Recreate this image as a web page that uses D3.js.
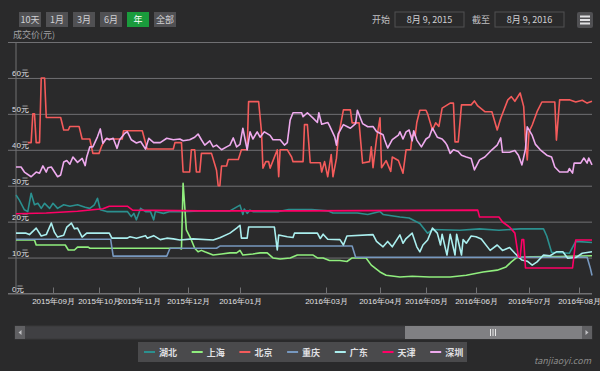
<!DOCTYPE html>
<html>
<head>
<meta charset="utf-8">
<script src="https://cdn.jsdelivr.net/npm/d3@7"></script>
<style>
  html, body { margin: 0; padding: 0; background: #2a2a2b; }
  svg { display: block; font-family: "Noto Sans CJK SC", "Noto Sans", sans-serif; }
</style>
</head>
<body>
<div id="chart"></div>
<script>
// series names and colours (legend order)
var seriesNames = ["湖北", "上海", "北京", "重庆", "广东", "天津", "深圳"];
var seriesColors = ["#2b908f", "#90ee7e", "#f45b5b", "#7798bf", "#aaeeee", "#ff0066", "#eeaaee"];

var rangeButtons = ["10天", "1月", "3月", "6月", "年", "全部"];
var rangeFrom = "8月 9, 2015";
var rangeTo = "8月 9, 2016";

var yTicks = [0, 10, 20, 30, 40, 50, 60, 70];
var monthTicks = ["2015-09-01", "2015-10-01", "2015-11-01", "2015-12-01", "2016-01-01",
  "2016-03-01", "2016-04-01", "2016-05-01", "2016-06-01", "2016-07-01", "2016-08-01"];

// prices (元)
var hubei = [
  ["2015-08-10",27.4],["2015-08-12",26],["2015-08-15",23.3],["2015-08-17",22.8],["2015-08-19",27.9],["2015-08-21",24.7],
  ["2015-08-23",25.1],["2015-08-25",23.7],["2015-08-27",25.1],["2015-08-30",23.7],["2015-09-01",25.1],["2015-09-04",23.7],
  ["2015-09-08",24.7],["2015-09-12",24.3],["2015-09-17",24.7],["2015-09-22",24],["2015-09-25",23.7],["2015-09-28",24.7],
  ["2015-09-30",26.5],["2015-10-02",23.3],["2015-10-07",22.8],["2015-10-15",22.8],["2015-10-23",22.8],["2015-10-26",21.4],
  ["2015-10-28",22.3],["2015-10-30",20.5],["2015-11-02",23.7],["2015-11-05",22.8],["2015-11-08",22.8],["2015-11-10",20.5],
  ["2015-11-11",22.8],["2015-11-16",22.3],["2015-11-20",22.8],["2015-11-28",22.8],["2015-12-08",23],["2015-12-26",23],
  ["2016-01-01",24.6],["2016-01-03",22],["2016-01-04",23.5],["2016-01-06",22.3],["2016-01-08",23.2],["2016-01-10",22.8],
  ["2016-01-28",22.8],["2016-02-04",23.4],["2016-02-20",23.4],["2016-03-02",23],["2016-03-05",22.4],["2016-03-19",22.4],
  ["2016-03-25",22],["2016-04-01",22.8],["2016-04-03",22],["2016-04-14",21.3],["2016-04-20",21],["2016-04-27",19.5],
  ["2016-05-02",16.8],["2016-05-05",17.8],["2016-05-22",17.6],["2016-06-03",18],["2016-06-14",17.6],["2016-06-26",18],
  ["2016-07-10",18],["2016-07-12",16],["2016-07-15",11.5],["2016-07-26",11.2],["2016-07-30",14.5],["2016-08-09",14.2]
];
var shanghai = [
  ["2015-08-10",14.9],["2015-08-21",14.9],["2015-08-22",13.5],["2015-09-09",13.5],["2015-09-11",12.1],["2015-09-15",12.1],
  ["2015-09-17",12.9],["2015-09-24",12.9],["2015-09-25",12.6],["2015-11-26",12.6],["2015-11-27",12.4],["2015-11-28",30.7],
  ["2015-11-30",17.7],["2015-12-03",14.9],["2015-12-05",12.6],["2015-12-07",11.6],["2015-12-09",12],["2015-12-11",11.6],
  ["2015-12-16",10.7],["2015-12-21",11],["2015-12-26",11.3],["2015-12-30",11.3],["2016-01-01",12],["2016-01-03",10.7],
  ["2016-01-10",11],["2016-01-15",11.3],["2016-01-20",11.3],["2016-01-24",9.9],["2016-01-29",9.6],["2016-02-05",9.9],
  ["2016-02-10",10.7],["2016-02-21",10.7],["2016-02-24",9.9],["2016-02-28",9.9],["2016-03-03",9.2],["2016-03-09",9.2],
  ["2016-03-13",8.9],["2016-03-16",9.9],["2016-03-24",9.9],["2016-03-27",7.9],["2016-04-01",6],["2016-04-05",5.1],
  ["2016-04-14",4.6],["2016-04-22",4.8],["2016-05-03",4.6],["2016-05-16",4.6],["2016-05-26",5.1],["2016-06-05",6],
  ["2016-06-13",6.5],["2016-06-18",7.4],["2016-06-21",8.8],["2016-06-24",10],["2016-07-02",10.2],["2016-07-20",10.3],
  ["2016-08-09",10.5]
];
var beijing = [
  ["2015-08-17",42],["2015-08-19",42],["2015-08-20",50],["2015-08-21",50],["2015-08-22",42],["2015-08-24",42],
  ["2015-08-25",60],["2015-08-27",60],["2015-08-28",49],["2015-09-06",49],["2015-09-08",45.5],["2015-09-11",45.5],
  ["2015-09-12",46.5],["2015-09-18",46.5],["2015-09-20",43],["2015-09-25",43],["2015-09-27",39],["2015-10-01",39],
  ["2015-10-03",41],["2015-10-06",43],["2015-10-19",43],["2015-10-20",45.3],["2015-11-03",45.3],["2015-11-06",40.2],
  ["2015-11-22",40.2],["2015-11-23",42],["2015-11-27",42],["2015-11-28",33.8],["2015-12-02",33.8],["2015-12-03",40],
  ["2015-12-05",40],["2015-12-06",33.8],["2015-12-08",33.8],["2015-12-09",39],["2015-12-15",39],["2015-12-18",34.3],
  ["2015-12-19",30],["2015-12-20",30],["2015-12-21",35.5],["2015-12-24",35.5],["2015-12-25",37.3],["2015-12-31",37.3],
  ["2016-01-02",40],["2016-01-06",40],["2016-01-07",53.4],["2016-01-14",53.4],["2016-01-16",45],["2016-01-17",34.9],
  ["2016-01-19",36.7],["2016-01-21",36.7],["2016-01-22",34.9],["2016-01-27",40],["2016-01-28",32.5],["2016-01-29",40],
  ["2016-02-03",40],["2016-02-06",38],["2016-02-07",36.7],["2016-02-14",36.7],["2016-02-15",47],["2016-02-17",47],
  ["2016-02-19",36.4],["2016-02-26",36.4],["2016-02-27",33.8],["2016-02-29",36.7],["2016-03-02",32.5],["2016-03-04",38.7],
  ["2016-03-05",32.5],["2016-03-07",37.6],["2016-03-08",43.3],["2016-03-11",51.1],["2016-03-15",51.1],["2016-03-16",47.5],
  ["2016-03-20",47.5],["2016-03-22",36.3],["2016-03-26",36.7],["2016-03-27",40.8],["2016-03-28",35],["2016-03-30",43],
  ["2016-04-01",48.9],["2016-04-02",35],["2016-04-05",37],["2016-04-08",34],["2016-04-09",38],["2016-04-13",37],
  ["2016-04-16",33.5],["2016-04-18",40],["2016-04-21",40],["2016-04-22",44],["2016-04-24",44],["2016-04-25",47.6],
  ["2016-04-27",51],["2016-05-01",51],["2016-05-02",50],["2016-05-05",45.5],["2016-05-07",47.5],["2016-05-09",46.5],
  ["2016-05-11",51.6],["2016-05-16",53],["2016-05-18",53],["2016-05-19",42.2],["2016-05-21",42.2],["2016-05-23",52.5],
  ["2016-05-29",52.5],["2016-05-31",53.6],["2016-06-02",52.2],["2016-06-06",50.6],["2016-06-10",50.6],["2016-06-13",45.5],
  ["2016-06-15",48.8],["2016-06-19",53.9],["2016-06-21",54.8],["2016-06-23",53.5],["2016-06-26",55.8],["2016-06-28",52],
  ["2016-06-29",42.7],["2016-06-30",37.2],["2016-07-01",45],["2016-07-03",46.9],["2016-07-06",50.6],["2016-07-09",53.3],
  ["2016-07-17",53.3],["2016-07-18",42.7],["2016-07-20",53.9],["2016-07-26",53.9],["2016-07-30",53.3],["2016-08-03",53.8],
  ["2016-08-06",53],["2016-08-09",53.5]
];
var chongqing = [
  ["2015-08-10",15.1],["2015-10-10",15.1],["2015-10-12",10.4],["2015-11-18",10.4],["2015-11-20",12.6],["2015-12-18",12.6],
  ["2015-12-20",13.2],["2016-03-16",13.2],["2016-03-18",10.1],["2016-08-06",10.1],["2016-08-08",7],["2016-08-09",5]
];
var guangdong = [
  ["2015-08-10",16.8],["2015-08-16",16.8],["2015-08-18",16.4],["2015-08-22",18.2],["2015-08-25",16],["2015-08-28",16.4],
  ["2015-08-31",19.6],["2015-09-02",17],["2015-09-04",15.7],["2015-09-08",16.2],["2015-09-10",18.5],["2015-09-13",19.6],
  ["2015-09-15",18],["2015-09-17",18.2],["2015-09-20",15.7],["2015-09-23",16.8],["2015-10-09",16.8],["2015-10-11",15.4],
  ["2015-10-23",15.4],["2015-10-25",15.8],["2015-10-30",15.4],["2015-11-05",16.1],["2015-11-06",15.4],["2015-11-10",16.1],
  ["2015-11-14",15],["2015-11-18",15.4],["2015-11-22",15.2],["2015-11-26",14.9],["2015-12-04",15.2],["2015-12-16",14.9],
  ["2015-12-20",15.5],["2015-12-26",16.8],["2015-12-30",18.2],["2016-01-01",19],["2016-01-02",15.4],["2016-01-06",15.4],
  ["2016-01-07",18.5],["2016-01-25",18.5],["2016-01-27",12.1],["2016-01-28",16.3],["2016-02-03",15.8],["2016-02-07",15.6],
  ["2016-02-08",16.8],["2016-02-24",16.8],["2016-02-26",15.3],["2016-02-28",16.5],["2016-03-02",15.1],["2016-03-09",15],
  ["2016-03-11",13.5],["2016-03-13",16],["2016-03-28",16.4],["2016-03-30",14.5],["2016-04-03",13],["2016-04-06",14.5],
  ["2016-04-09",13],["2016-04-14",16.3],["2016-04-16",14],["2016-04-18",15.3],["2016-04-22",16.8],["2016-04-25",13],
  ["2016-04-27",11.6],["2016-04-29",13.5],["2016-05-02",14.9],["2016-05-05",18.2],["2016-05-08",16.8],["2016-05-10",13.5],
  ["2016-05-11",16.5],["2016-05-14",10.7],["2016-05-16",16.5],["2016-05-19",10.7],["2016-05-20",16.5],["2016-05-23",10.7],
  ["2016-05-24",15],["2016-05-26",14],["2016-05-29",16],["2016-06-01",15.8],["2016-06-04",15.2],["2016-06-09",12],
  ["2016-06-13",13.5],["2016-06-16",12],["2016-06-20",12.8],["2016-06-23",11.2],["2016-06-27",9.3],["2016-06-30",9],
  ["2016-07-03",7.9],["2016-07-06",8.8],["2016-07-10",10.7],["2016-07-14",10.5],["2016-07-18",11.6],["2016-07-22",11.6],
  ["2016-07-25",9.8],["2016-07-30",10],["2016-08-03",11.2],["2016-08-09",11.6]
];
var tianjin = [
  ["2015-08-10",22.2],["2015-08-28",22.4],["2015-09-17",22.9],["2015-10-04",23.6],["2015-10-09",24.3],["2015-10-23",24.3],
  ["2015-10-27",23.2],["2015-12-08",23],["2016-02-12",23],["2016-06-02",23.2],["2016-06-03",21.3],["2016-06-14",21.3],
  ["2016-06-16",19.9],["2016-06-20",18.5],["2016-06-23",16.8],["2016-06-25",10.2],["2016-06-26",10.2],["2016-06-27",15],
  ["2016-06-28",15],["2016-06-29",7.1],["2016-07-28",7.1],["2016-07-30",14.9],["2016-08-09",14.9]
];
var shenzhen = [
  ["2015-08-10",35.2],["2015-08-13",35.2],["2015-08-15",33.8],["2015-08-19",32.5],["2015-08-22",33.8],["2015-08-24",33.5],
  ["2015-08-26",35.5],["2015-08-28",33.8],["2015-08-29",35],["2015-08-31",35.2],["2015-09-04",32.5],["2015-09-06",33],
  ["2015-09-08",36.6],["2015-09-10",37],["2015-09-12",36],["2015-09-14",38],["2015-09-17",36.5],["2015-09-20",37.6],
  ["2015-09-22",35.6],["2015-09-23",38],["2015-09-25",40.8],["2015-09-27",40.8],["2015-09-30",43.6],["2015-10-02",45.8],
  ["2015-10-04",41.8],["2015-10-07",43.2],["2015-10-09",42.8],["2015-10-12",43.2],["2015-10-15",40.4],["2015-10-17",42.8],
  ["2015-10-21",44.6],["2015-10-23",45],["2015-10-26",42.8],["2015-10-30",41.9],["2015-11-02",42.3],["2015-11-05",40.2],
  ["2015-11-07",43.2],["2015-11-10",42],["2015-11-14",42],["2015-11-18",43.2],["2015-11-22",42.8],["2015-11-26",43],
  ["2015-11-28",42.5],["2015-12-02",42.8],["2015-12-05",43.5],["2015-12-07",44.4],["2015-12-09",42.8],["2015-12-11",41.3],
  ["2015-12-14",42.5],["2015-12-16",40.8],["2015-12-18",41.3],["2015-12-21",40],["2015-12-24",40.8],["2015-12-26",41.3],
  ["2015-12-28",43.3],["2015-12-30",40.8],["2016-01-01",41.5],["2016-01-03",46],["2016-01-06",40],["2016-01-08",45],
  ["2016-01-10",43],["2016-01-13",45],["2016-01-15",43.5],["2016-01-18",45],["2016-01-22",44],["2016-01-24",42.8],
  ["2016-01-29",42.8],["2016-02-01",41.3],["2016-02-03",42],["2016-02-05",48.3],["2016-02-07",50.3],["2016-02-13",50.3],
  ["2016-02-14",49.2],["2016-02-17",50.3],["2016-02-21",48.8],["2016-02-24",47.6],["2016-02-25",50.3],["2016-02-27",47.1],
  ["2016-03-02",47.6],["2016-03-03",46.7],["2016-03-06",43.6],["2016-03-07",41.3],["2016-03-08",44.4],["2016-03-11",47],
  ["2016-03-13",46.5],["2016-03-15",46],["2016-03-18",47.3],["2016-03-19",51],["2016-03-22",47.3],["2016-03-25",46.4],
  ["2016-03-28",46.5],["2016-03-30",45.1],["2016-04-03",44.2],["2016-04-04",42.8],["2016-04-06",40.5],["2016-04-09",42.8],
  ["2016-04-13",44.1],["2016-04-14",45],["2016-04-16",43],["2016-04-18",45],["2016-04-20",45.5],["2016-04-22",42.5],
  ["2016-04-23",45.3],["2016-04-25",42.7],["2016-04-28",40.8],["2016-05-01",43],["2016-05-03",43.6],["2016-05-05",46],
  ["2016-05-08",43.5],["2016-05-11",43],["2016-05-13",42],["2016-05-14",41.3],["2016-05-16",39],["2016-05-18",40],
  ["2016-05-21",39.5],["2016-05-23",38.5],["2016-05-26",38],["2016-05-29",37.6],["2016-05-31",34.4],["2016-06-03",37.2],
  ["2016-06-06",38],["2016-06-10",40],["2016-06-13",41.3],["2016-06-15",43.3],["2016-06-16",39.3],["2016-06-20",39.3],
  ["2016-06-23",39.8],["2016-06-25",38.5],["2016-06-27",35.8],["2016-06-29",40.2],["2016-06-30",46.4],["2016-07-03",44],
  ["2016-07-05",41.5],["2016-07-08",40],["2016-07-12",38.5],["2016-07-15",38],["2016-07-17",35.2],["2016-07-20",33.8],
  ["2016-07-25",33.8],["2016-07-26",34.8],["2016-07-28",33.5],["2016-07-29",36.3],["2016-08-02",36.3],["2016-08-04",37.7],
  ["2016-08-06",36.3],["2016-08-07",37.7],["2016-08-09",35.8]
];
var seriesData = [hubei, shanghai, beijing, chongqing, guangdong, tianjin, shenzhen];

// layout
var svgWidth = 600, svgHeight = 371;
var plotTop = 42, plotBottom = 293.5, gridLeft = 8, plotLeft = 16, plotRight = 592;
// the axis is ordinal (trading days), so months get uneven widths
var xAnchorDates = ["2015-08-10"].concat(monthTicks, ["2016-08-09"]);
var xAnchorPx = [16, 53, 99, 139, 188, 240, 326, 380, 426, 476, 529, 579, 592];

var parseDate = d3.timeParse("%Y-%m-%d");

var svg = d3.select("#chart").append("svg")
  .attr("width", svgWidth)
  .attr("height", svgHeight);

svg.append("rect").attr("width", svgWidth).attr("height", svgHeight).attr("fill", "#2a2a2b");

var x = d3.scaleTime()
  .domain(xAnchorDates.map(parseDate))
  .range(xAnchorPx);
var y = d3.scaleLinear()
  .domain([0, 70])
  .range([plotBottom, plotTop]);

// y grid + labels
var yAxis = svg.append("g")
  .attr("transform", `translate(${gridLeft},0)`)
  .call(d3.axisRight(y).tickValues(yTicks).tickSize(plotRight - gridLeft)
    .tickFormat(d => d === 70 ? "" : d + "元"));
yAxis.select(".domain").remove();
yAxis.selectAll("line").attr("stroke", "#707073");
yAxis.selectAll("text")
  .attr("x", 4).attr("dy", "-0.25em")
  .attr("text-anchor", "start")
  .attr("fill", "#e0e0e3").style("font-size", "8px");

// left axis line
svg.append("line")
  .attr("x1", plotLeft).attr("x2", plotLeft)
  .attr("y1", plotTop).attr("y2", plotBottom)
  .attr("stroke", "#707073");

// x axis
var xAxis = svg.append("g")
  .attr("transform", `translate(0,${plotBottom})`)
  .call(d3.axisBottom(x).tickValues(monthTicks.map(parseDate))
    .tickSizeInner(-6).tickSizeOuter(0).tickPadding(5)
    .tickFormat(d3.timeFormat("%Y年%m月")));
xAxis.select(".domain").attr("stroke", "#707073").attr("d", `M${gridLeft},0H${plotRight}`);
xAxis.selectAll("line").attr("stroke", "#707073");
xAxis.selectAll("text").attr("fill", "#e0e0e3").style("font-size", "8px");

// y title
svg.append("text")
  .attr("x", 13).attr("y", 38)
  .attr("fill", "#a0a0a3").style("font-size", "9px")
  .text("成交价(元)");

// lines
var line = d3.line()
  .x(d => x(parseDate(d[0])))
  .y(d => y(d[1]));

svg.append("g").selectAll("path")
  .data(seriesData)
  .enter()
  .append("path")
  .attr("d", line)
  .attr("fill", "none")
  .attr("stroke", (d, i) => seriesColors[i])
  .attr("stroke-width", 1.6)
  .attr("stroke-linejoin", "round");

// range selector buttons
var btnX = [19, 46, 73, 100, 127, 154];
var btns = svg.append("g").selectAll("g")
  .data(rangeButtons)
  .enter()
  .append("g")
  .attr("transform", (d, i) => `translate(${btnX[i]},12)`);
btns.append("rect")
  .attr("width", 22).attr("height", 15)
  .attr("fill", d => d === "年" ? "#1a9b3c" : "#505053");
btns.append("text")
  .attr("x", 11).attr("y", 11)
  .attr("text-anchor", "middle")
  .attr("fill", d => d === "年" ? "#ffffff" : "#d0d0d3")
  .style("font-size", "9px")
  .text(d => d);

// date inputs
var inputs = [["开始", rangeFrom, 372, 395], ["截至", rangeTo, 472, 495]];
inputs.forEach(function (inp) {
  svg.append("text").attr("x", inp[2]).attr("y", 23)
    .attr("fill", "#c0c0c3").style("font-size", "9px").text(inp[0]);
  svg.append("rect").attr("x", inp[3]).attr("y", 12).attr("width", 69).attr("height", 15)
    .attr("fill", "#2a2a2b").attr("stroke", "#505053");
  svg.append("text").attr("x", inp[3] + 34.5).attr("y", 23)
    .attr("text-anchor", "middle")
    .attr("fill", "#d0d0d3").style("font-size", "9px").text(inp[1]);
});

// export menu button
svg.append("rect").attr("x", 577).attr("y", 12).attr("width", 16).attr("height", 16)
  .attr("rx", 2).attr("fill", "#505053");
[16.5, 20, 23.5].forEach(function (yy) {
  svg.append("line").attr("x1", 580).attr("x2", 590).attr("y1", yy).attr("y2", yy)
    .attr("stroke", "#e0e0e3").attr("stroke-width", 2);
});

// scrollbar
var sb = svg.append("g");
sb.append("rect").attr("x", 15).attr("y", 326).attr("width", 577).attr("height", 13)
  .attr("fill", "#404043").attr("stroke", "#39393b");
sb.append("rect").attr("x", 405).attr("y", 326).attr("width", 177).attr("height", 13)
  .attr("fill", "#808083");
[490.5, 493, 495.5].forEach(function (xx) {
  sb.append("line").attr("x1", xx).attr("x2", xx).attr("y1", 329).attr("y2", 336)
    .attr("stroke", "#e8e8e8");
});
[15, 582].forEach(function (xx) {
  sb.append("rect").attr("x", xx).attr("y", 326).attr("width", 10).attr("height", 13)
    .attr("fill", "#606063");
});
sb.append("path").attr("d", "M21.5,330L18.5,332.5L21.5,335Z").attr("fill", "#c0c0c3");
sb.append("path").attr("d", "M585.5,330L588.5,332.5L585.5,335Z").attr("fill", "#c0c0c3");

// legend
var legend = svg.append("g");
legend.append("rect").attr("x", 138).attr("y", 342).attr("width", 329).attr("height", 20)
  .attr("fill", "#4a4a4c");
var items = legend.selectAll("g.item")
  .data(seriesNames)
  .enter()
  .append("g")
  .attr("class", "item")
  .attr("transform", (d, i) => `translate(${144 + i * 47.7},352)`);
items.append("line")
  .attr("x1", 0).attr("x2", 11)
  .attr("stroke", (d, i) => seriesColors[i]).attr("stroke-width", 2);
items.append("text")
  .attr("x", 15).attr("y", 3.5)
  .attr("fill", "#e0e0e3").style("font-size", "9px").style("font-weight", "bold")
  .text(d => d);

// watermark
svg.append("text").attr("x", 591).attr("y", 364)
  .attr("text-anchor", "end")
  .attr("fill", "#8a8a8a").style("font-size", "9px").style("font-style", "italic")
  .text("tanjiaoyi.com");
</script>
</body>
</html>
